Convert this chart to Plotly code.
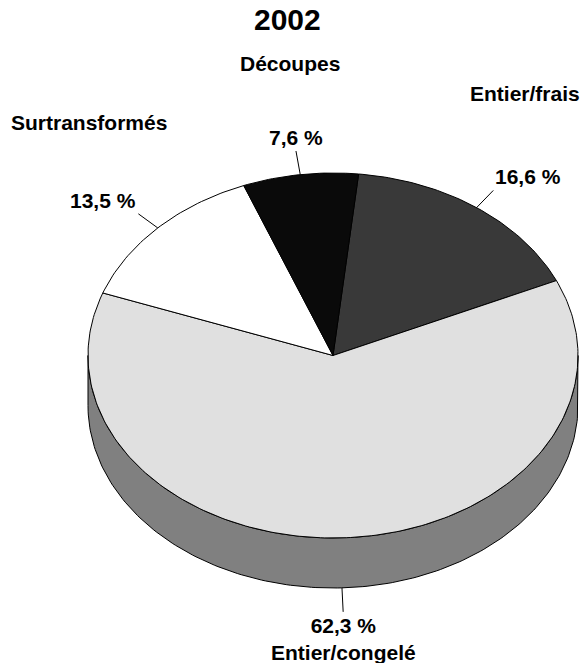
import numpy as np
import plotly.graph_objects as go

# data (shares in %, clockwise from the top)
categories = ['Entier/frais', 'Entier/congelé', 'Surtransformés', 'Découpes']
shares = [16.6, 62.3, 13.5, 7.6]
year = '2002'

top_colors = ['#393939', '#e0e0e0', '#ffffff', '#0a0a0a']
side_color = '#808080'

# page geometry (pixels)
W, H = 584, 663
CX, CY = 333, 355.5
RX, RY = 245, 182.5
DEPTH = 50
START = 84.0
LEADER = 24
FONT = 'Arial, Liberation Sans, sans-serif'

# where the category names sit
name_pos = {
    'Découpes': (290, 63),
    'Entier/frais': (525, 93),
    'Surtransformés': (89, 122),
}


def ell(t_deg, dy=0.0):
    t = np.radians(t_deg)
    return CX + RX * np.cos(t), CY - RY * np.sin(t) + dy


fig = go.Figure()

# visible side wall (front half of the cylinder)
t_side = np.linspace(180, 360, 181)
xs_top, ys_top = ell(t_side)
xs_bot, ys_bot = ell(t_side[::-1], DEPTH)
fig.add_trace(go.Scatter(
    x=np.concatenate([xs_top, xs_bot, xs_top[:1]]),
    y=np.concatenate([ys_top, ys_bot, ys_top[:1]]),
    mode='lines', fill='toself', fillcolor=side_color,
    line=dict(color='black', width=1), hoverinfo='skip', showlegend=False,
))

bounds = START - 3.6 * np.concatenate([[0], np.cumsum(shares)])
annotations = []

for i, (cat, val) in enumerate(zip(categories, shares)):
    t0, t1 = bounds[i], bounds[i + 1]
    ts = np.linspace(t0, t1, max(int(abs(t1 - t0)), 2) + 1)
    ax_, ay_ = ell(ts)
    fig.add_trace(go.Scatter(
        x=np.concatenate([[CX], ax_, [CX]]),
        y=np.concatenate([[CY], ay_, [CY]]),
        mode='lines', fill='toself', fillcolor=top_colors[i],
        line=dict(color='black', width=1), hoverinfo='skip', showlegend=False,
    ))

    # leader line from the rim, radially outwards
    mid = (t0 + t1) / 2
    front = np.sin(np.radians(mid)) < 0
    px, py = ell(mid, DEPTH if front else 0)
    dx, dy = RX * np.cos(np.radians(mid)), -RY * np.sin(np.radians(mid))
    n = np.hypot(dx, dy)
    dx, dy = dx / n, dy / n
    ex, ey = px + LEADER * dx, py + LEADER * dy
    fig.add_trace(go.Scatter(
        x=[px, ex], y=[py, ey], mode='lines',
        line=dict(color='black', width=1), hoverinfo='skip', showlegend=False,
    ))

    label = f'{val:.1f}'.replace('.', ',') + ' %'
    xanchor = 'left' if dx > 0.3 else ('right' if dx < -0.3 else 'center')
    yanchor = 'top' if dy > 0 else 'bottom'
    if cat == 'Entier/congelé':
        label = label + '<br>' + cat
    annotations.append(dict(
        x=ex, y=ey, text=label, showarrow=False,
        xanchor=xanchor, yanchor=yanchor, align='center',
        font=dict(family=FONT, size=21, color='black', weight='bold'),
    ))

for cat, (x, y) in name_pos.items():
    annotations.append(dict(
        x=x, y=y, text=cat, showarrow=False, xanchor='center', yanchor='middle',
        font=dict(family=FONT, size=21, color='black', weight='bold'),
    ))

annotations.append(dict(
    x=287, y=19, text=year, showarrow=False, xanchor='center', yanchor='middle',
    font=dict(family=FONT, size=30, color='black', weight='bold'),
))

fig.update_layout(
    width=W, height=H,
    margin=dict(l=0, r=0, t=0, b=0),
    paper_bgcolor='white', plot_bgcolor='white',
    xaxis=dict(range=[0, W], visible=False, fixedrange=True),
    yaxis=dict(range=[H, 0], visible=False, fixedrange=True),
    annotations=annotations,
    showlegend=False,
)

# the page body has a default 8px margin; drop it so the figure fills the window
fig.write_html(
    'out.html',
    config={'displayModeBar': False},
    post_script="document.body.style.margin='0';document.body.style.overflow='hidden';",
)
